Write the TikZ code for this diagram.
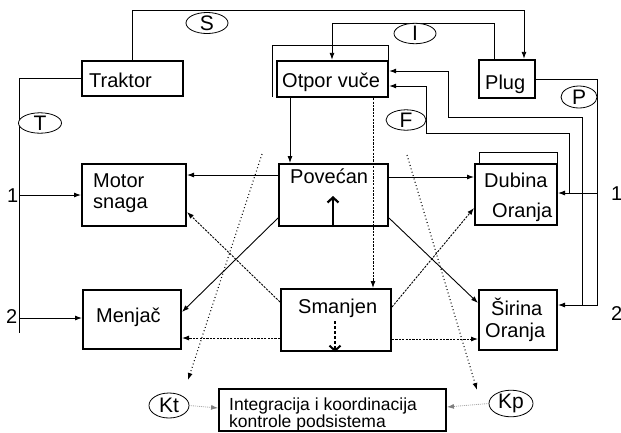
\documentclass[tikz,border=0pt]{standalone}
\usepackage{fontspec}
\setmainfont{Liberation Sans}
\usetikzlibrary{shapes.geometric,arrows.meta}
\begin{document}
\begin{tikzpicture}[x=1pt,y=-1pt,
  box/.style={draw, line width=2.4pt, fill=white, inner sep=0pt, rectangle},
  thinbox/.style={draw, line width=2pt, fill=white, inner sep=0pt, rectangle},
  frame/.style={draw, line width=0.8pt},
  ell/.style={draw, ellipse, line width=0.8pt, inner sep=0pt, fill=white, font=\fontsize{21}{24}\selectfont},
  lab/.style={inner sep=0pt, anchor=base west, font=\fontsize{20}{24}\selectfont},
  slab/.style={inner sep=0pt, anchor=base west, font=\fontsize{17.5}{20}\selectfont},
  con/.style={line width=0.9pt},
  arr/.style={con, -{Latex[length=7pt,width=5pt]}},
  dsh/.style={line width=0.9pt, dash pattern=on 2.2pt off 1.2pt},
  darr/.style={dsh, -{Latex[length=7pt,width=5pt]}},
  dotl/.style={line width=1.1pt, dash pattern=on 0.9pt off 2.6pt, -{Latex[length=7pt,width=5pt]}},
  gdot/.style={line width=0.8pt, gray, dash pattern=on 0.8pt off 1.2pt, -{Latex[length=7pt,width=5pt]}},
  bigup/.style={line width=2.2pt, -{Straight Barb[length=5pt,width=11pt]}},
  bigdown/.style={line width=2pt, dash pattern=on 3pt off 2pt, -{Straight Barb[length=5pt,width=11pt]}}
]
\useasboundingbox (0,0) rectangle (621,432);

% shadow frames
\draw[frame] (272,97) -- (272,45) -- (388,45) -- (388,61);
\draw[frame] (479,226) -- (479,152) -- (557,152) -- (557,164);

% boxes
\node[box, minimum width=101, minimum height=35] (trak) at (132.5,78.5) {};
\node[box, minimum width=111, minimum height=36] (otpor) at (332.5,79) {};
\node[box, minimum width=56, minimum height=38] (plug) at (507,79) {};
\node[thinbox, minimum width=104, minimum height=62] (motor) at (134,195) {};
\node[thinbox, minimum width=109, minimum height=62] (pov) at (333.5,195) {};
\node[thinbox, minimum width=82, minimum height=61] (dub) at (516,194.5) {};
\node[thinbox, minimum width=98, minimum height=59] (menj) at (132,319.5) {};
\node[thinbox, minimum width=110, minimum height=62] (sman) at (336,320) {};
\node[thinbox, minimum width=78, minimum height=60] (sir) at (518,320) {};
\node[draw, line width=1.8pt, inner sep=0pt, minimum width=227, minimum height=42] (integ) at (332.5,410) {};

% texts
\node[lab] (trakT) at (89,87) {Traktor};
\node[lab] (otporT) at (282,87) {Otpor vuče};
\node[lab] (plugT) at (485,89) {Plug};
\node[lab] (motorT) at (93,187) {Motor};
\node[lab] (motorT2) at (93,208) {snaga};
\node[lab] (povT) at (290,183) {Povećan};
\node[lab] (dubT) at (484,187) {Dubina};
\node[lab] (dubT2) at (492,217) {Oranja};
\node[lab] (menjT) at (96,322) {Menjač};
\node[lab] (smanT) at (298,313) {Smanjen};
\node[lab] (sirT) at (491,315) {Širina};
\node[lab] (sirT2) at (485,337) {Oranja};
\node[slab] (intT) at (229,410) {Integracija i koordinacija};
\node[slab] (intT2) at (229,427) {kontrole podsistema};
\node[lab] (n1l) at (7,202) {1};
\node[lab] (n2l) at (6,323) {2};
\node[lab] (n1r) at (611,200) {1};
\node[lab] (n2r) at (611,320) {2};

% top feedback lines
\draw[arr] (trak.north) -- (trak.north |- 0,10) -| (plug.north -| 524,0);
\draw[arr] (plug.north -| 494,0) -- (494,23) -| (otpor.north -| 332,0);

% tractor lines
\coordinate (tend) at (19,333);
\draw[con] (trak.west) -| (tend);
\draw[arr] (19,195) -- (motor.west |- 0,195);
\draw[arr] (19,318) -- (menj.west |- 0,318);

% Povecan
\draw[arr] (otpor.south -| 290,0) -- (pov.north -| 290,0);
\draw[arr] (pov.west |- 0,175) -- (motor.east |- 0,175);
\draw[arr] (pov.west |- 0,218) -- (menj.east |- 0,312);
\draw[arr] (pov.east |- 0,177) -- (dub.west |- 0,177);
\draw[arr] (pov.east |- 0,218) -- (sir.west |- 0,303);
\draw[bigup] (pov.south -| 333,0) -- (333,196);

% Smanjen
\draw[darr] (sman.west |- 0,302) -- (motor.east |- 0,212);
\draw[darr] (sman.east |- 0,307) -- (dub.west |- 0,208);
\draw[darr] (sman.west |- 0,338) -- (menj.east |- 0,338);
\draw[darr] (sman.east |- 0,339) -- (sir.west |- 0,339);
\draw[bigdown] (335,321) -- (sman.south -| 335,0);

% right side wiring
\draw[arr] (plug.east) -- (597,79) -- (597,305) -- (sir.east |- 0,305);
\draw[arr] (597,193) -- (dub.east |- 0,193);
\draw[arr] (569,193) -- (569,133) -- (426,133) -- (426,86) -- (otpor.east |- 0,86);
\draw[arr] (582,305) -- (582,117) -- (448,117) -- (448,71) -- (otpor.east |- 0,71);

% ellipses
\node[ell, minimum width=42, minimum height=20] (S) at (207,23) {S};
\node[ell, minimum width=42, minimum height=19] (I) at (415,33.5) {I};
\node[ell, minimum width=43, minimum height=20] (T) at (40,123) {T};
\node[ell, minimum width=36, minimum height=22] (P) at (579,97) {P};
\node[ell, minimum width=40, minimum height=20] (F) at (406,120) {F};
\node[ell, minimum width=40, minimum height=25] (kt) at (169,405.5) {Kt};
\node[ell, minimum width=44, minimum height=25] (kp) at (511,403.5) {Kp};

% dotted control lines
\coordinate (dlA) at (262,154);
\coordinate (dlB) at (188,380);
\coordinate (drA) at (407,155);
\coordinate (drB) at (477,390);
\draw[dotl] (dlA) -- (dlB);
\draw[dotl] (drA) -- (drB);
\draw[gdot] (kt.east) -- (integ.west |- 0,408);
\draw[gdot] (kp.west) -- (integ.east |- 0,407);

% dashed Otpor -> Smanjen, on top
\draw[darr] (otpor.south -| 373,0) -- (sman.north -| 373,0);
\end{tikzpicture}
\end{document}
